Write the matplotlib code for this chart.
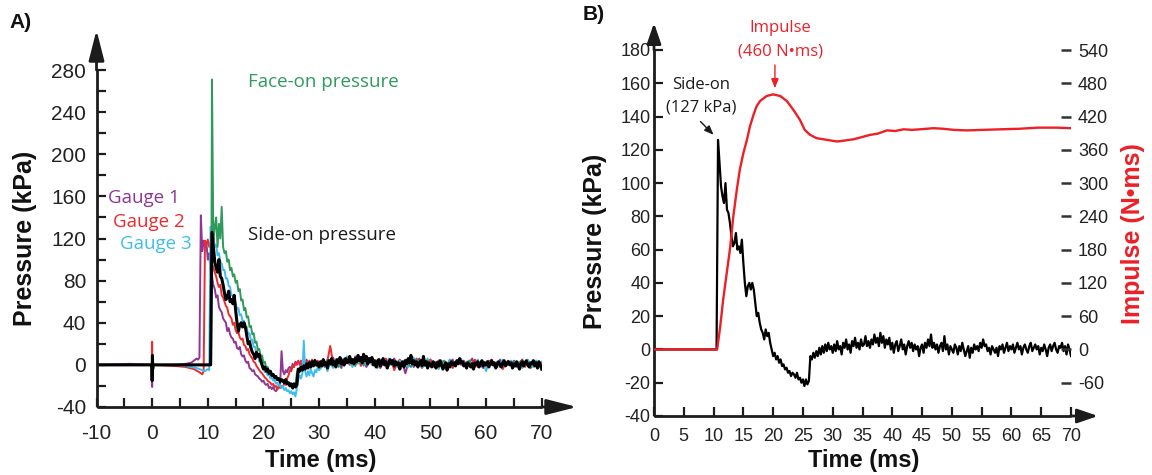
import numpy as np
import matplotlib
matplotlib.use("Agg")
import matplotlib.pyplot as plt
from matplotlib.ticker import MultipleLocator, FixedLocator

plt.rcParams['axes.unicode_minus'] = False
plt.rcParams['font.family'] = ['Liberation Sans', 'DejaVu Sans']

# ------------------------------------------------------------------ data
# Side-on pressure (kPa) - same trace in both panels
side_trig_t = [-10.0, -0.05, 0.0, 0.05, 0.1, 0.15]
side_trig_p = [0, 0, -15, 9, -4, 0]
side_main_start, side_main_end = 10.5, 30.0          # 0.25 ms samples
side_main_p = [0, 126, 112, 98, 92, 88, 100, 84,
               82, 76, 68, 62, 64, 70, 60, 62,
               58, 66, 52, 40, 32, 38, 40, 36,
               40, 36, 28, 20, 22, 16, 12, 10,
               6, 12, 8, 10, 4, 0, -4, -2,
               -6, -4, -8, -6, -10, -9, -12, -11,
               -14, -13, -16, -14, -15, -17, -14, -18,
               -17, -20, -18, -22, -18, -21, -19, -4,
               -6, -2, -5, -1, -4, 1, -3, 2,
               -2, 3, -1, 4, 0, 2, -2]
side_tail_start, side_tail_end = 30.25, 70.0          # 0.25 ms samples
side_tail_p = [3, -1, 5, 0, 2, -3, 4, 1,
               6, 0, 3, -2, 5, 2, 7, 1,
               4, 0, 6, 2, 3, 8, 2, 5,
               1, 6, 3, 9, 4, 7, 2, 10,
               4, 8, 1, 6, 3, 7, 0, 4,
               -2, 3, 5, -1, 2, 6, 0, 3,
               -3, 2, 5, 1, 4, -1, 3, 0,
               2, -4, 1, 3, -2, 4, 1, 6,
               2, 9, 1, 4, 0, 3, -2, 2,
               4, -1, 8, 0, 3, -3, 2, 0,
               -2, 3, 1, -3, 2, -1, 4, 0,
               -4, -1, 2, -5, 1, -2, 3, 0,
               2, -1, 4, 1, 6, 2, 3, -1,
               1, -3, 2, 0, -2, 1, -4, 2,
               0, 3, -2, 1, 4, -1, 2, 0,
               3, -2, 1, 4, 0, 2, -3, 1,
               3, 0, -2, 2, 4, -1, 1, 3,
               0, 2, -3, 1, -1, 3, 0, -4,
               1, 3, -1, 2, 4, 0, -2, 2,
               1, 4, -1, 2, -3, 3, 0, -4]

# Gauge 1 (purple)
g1_pre_t = [-10, -4, -0.05, 0, 0.05, 0.1, 4, 6, 7, 7.5, 8.0, 8.25, 8.5]
g1_pre_p = [0, 1, 0, -21, 6, 0, 0, 1, 2, 4, 6, 5, 7]
g1_main_start = 8.75
g1_main_p = [142, 108, 118, 112, 116, 100, 106, 88,
             84, 76, 72, 64, 66, 55, 52, 50,
             44, 42, 40, 32, 35, 29, 26, 25,
             21, 22, 16, 15, 17, 10, 8, 9,
             4, 2, 3, -3, -4, -6, -5, -9,
             -10, -11, -13, -14, -16, -15, -18, -19,
             -18, -22, -21, -23, -21, -24, -25, -23,
             -20, -18, 13, -6, -9, -5, -7, -3,
             -2, -4, 1, -2, 3, 1, 4, 0,
             3, -1, 2, 1, 5, 0, 3, 1,
             4, 2, 5, 1, 3, 0]
g1_tail_p = [3, -2, 5, 1, 7, 0, 4, -3, 6, 2,
             5, -1, 8, 2, 4, 6, -2, 3, 7, 1,
             4, -3, 2, 5, -1, 3, 6, 0, -4, 2,
             -8, 1, 4, -2, 3, 6, 0, 2, -3, 5,
             1, -2, 4, 0, 3, -4, 2, 5, -1, 3,
             0, 4, -2, 2, 6, -1, 3, 0, -3, 2,
             4, 0, 2, -2, 5, 1, -1, 3, 0, 4,
             -2, 2, 5, 0, 3, -3, 1, 4, -1, 2]

# Gauge 2 (red)
g2_pre_t = [-10, -4, -0.05, 0, 0.05, 0.1, 4, 6, 7.5, 8.5, 9.0, 9.25]
g2_pre_p = [0, 0, 0, 22, -4, 0, -1, -2, -4, -7, -9, -6]
g2_main_start = 9.5
g2_main_p = [118, 114, 119, 112, 116, 96, 92, 88,
             84, 78, 74, 76, 66, 64, 60, 56,
             54, 48, 46, 44, 38, 40, 33, 30,
             31, 26, 24, 25, 19, 18, 14, 15,
             10, 8, 6, 3, 2, -1, -3, -5,
             -7, -8, -10, -12, -13, -15, -16, -17,
             -19, -18, -21, -20, -23, -21, -22, -20,
             -21, -17, -19, -13, -10, -5, -6, -1,
             -2, 2, 0, 3, 1, 4, 2, 5,
             3, 4, 1, 4, 2, 5, 2, 3,
             1, 4, 2]
g2_tail_p = [3, 0, 4, 18, 2, 5, -1, 6, 2, 4,
             0, 5, 2, 7, -1, 4, 1, 6, 3, 0,
             5, -2, 3, 6, 0, 4, -5, 2, 5, 1,
             3, -1, 4, 0, 6, 2, -3, 3, 1, 5,
             -2, 2, 4, -1, 3, 0, 5, -3, 2, 1,
             4, -1, 3, 0, 2, 5, -2, 1, 3, 0,
             2, 5, -1, 3, 0, -4, 2, 4, 1, -1,
             3, 0, 5, -2, 2, 1, 4, -1, 2, 0]

# Gauge 3 (cyan)
g3_pre_t = [-10, -4, -0.05, 0, 0.05, 0.1, 4, 6, 7, 8, 9, 9.5, 10.0, 10.25]
g3_pre_p = [0, 0, 0, 8, -3, 0, 0, -1, -2, -3, -5, -6, -4, -5]
g3_main_start = 10.5
g3_main_p = [131, 120, 122, 112, 114, 104, 106, 98,
             96, 90, 90, 82, 82, 75, 74, 66,
             66, 60, 59, 53, 54, 47, 48, 41,
             42, 35, 36, 29, 30, 23, 24, 17,
             17, 10, 10, 3, 4, -2, -2, -7,
             -6, -10, -9, -13, -12, -15, -14, -18,
             -17, -20, -19, -22, -20, -24, -22, -25,
             -24, -27, -25, -28, -26, -30, -22, -14,
             -10, -13, -8, 23, -6, -11, -6, -10,
             -4, -8, -11, -5, -7, -2, -5]
g3_tail_p = [-2, 4, -6, 2, -3, 5, 0, 6, -1, 8,
             2, -2, 5, 1, 7, -1, 3, 6, 0, 4,
             -3, 5, 2, -1, 6, 0, 3, -2, 4, 1,
             5, -2, 3, 7, 0, 4, -3, 2, 6, -1,
             3, 0, -4, 4, 1, -2, 5, 2, -1, 3,
             6, -1, 2, 4, -3, 1, 5, 0, 3, -6,
             2, 4, -2, 3, 0, 5, -1, 2, 4, -2,
             1, 3, -3, 2, 5, 0, -2, 4, 1, 3]

# Face-on pressure (green)
fo_pre_t = [-10, 10.6]
fo_pre_p = [0, 0]
fo_main_start = 10.75
fo_main_p = [271, 118, 130, 140, 112, 134, 120, 150,
             112, 106, 108, 98, 100, 90, 92, 84,
             86, 78, 80, 70, 72, 61, 62, 52,
             54, 45, 46, 36, 37, 29, 30, 21,
             22, 14, 15, 8, 9, 2, 3, -3,
             -2, -7, -6, -10, -9, -12, -11, -14,
             -13, -15, -14, -16, -15, -17, -16, -18,
             -17, -19, -18, -20, -19, -8, -4, -6,
             -2, -4, 0, -3, 2, -1, 3, 0,
             4, 1, 3, -1, 2, 0]
fo_tail_p = [2, -1, 4, 0, 3, 5, -2, 3, 1, 6,
             2, 4, -1, 5, 3, 0, 6, 2, 4, 1,
             -2, 3, 5, 0, 2, 4, -1, 3, 0, 2,
             4, 1, -2, 3, 5, 0, 2, -1, 4, 1,
             0, 3, -2, 2, 4, -1, 1, 3, 0, 2,
             3, -1, 2, 4, 0, -2, 3, 1, 2, -1,
             1, 4, 0, 2, -2, 3, 1, 0, 2, 3,
             -1, 2, 4, 0, 1, -2, 3, 1, 0, 2]
tail_start, tail_end = 30.5, 70.0     # 0.5 ms samples for gauge / face-on tails

# Impulse (N*ms), panel B right axis
imp_t = [0, 10.6, 11.1, 11.6, 12.2, 12.8, 13.3, 13.9, 14.4, 15.0, 15.6, 16.1,
         16.7, 17.2, 17.8, 18.9, 20.0, 21.2, 22.3, 23.4, 24.5, 25.3, 26.2, 27.3,
         29.0, 30.7, 31.5, 33.5, 36.3, 37.5, 39.1, 40.5, 41.9, 43.3, 44.7, 46.9,
         48.5, 50.3, 52.5, 55.2, 58.3, 61.4, 64.5, 67.5, 70.0]
imp_v = [0, 0, 40, 89, 137, 185, 239, 288, 324, 354, 378, 402,
         423, 438, 448, 457, 460, 457, 448, 432, 414, 396, 387, 381,
         378, 375, 376, 379, 387, 389, 395, 394, 397, 396, 397, 399,
         398, 396, 395, 396, 397, 398, 400, 400, 399]

a_xticks = [-10, 0, 10, 20, 30, 40, 50, 60, 70]
a_yticks = [-40, 0, 40, 80, 120, 160, 200, 240, 280]
b_xticks = list(range(0, 75, 5))
b_yticks = list(range(-40, 200, 20))
r_yticks = [-60, 0, 60, 120, 180, 240, 300, 360, 420, 480, 540]

# ------------------------------------------------------------------ helpers
def grid(start, end, n):
    return np.linspace(start, end, n)

def trace(pre_t, pre_p, start, main_p, tail_p, tstart=tail_start, tend=tail_end):
    t = np.concatenate([pre_t, grid(start, 30.0, len(main_p)), grid(tstart, tend, len(tail_p))])
    p = np.concatenate([pre_p, main_p, tail_p])
    return t, p

side_main_t = grid(side_main_start, side_main_end, len(side_main_p))
side_tail_t = grid(side_tail_start, side_tail_end, len(side_tail_p))

W, H = 1152, 475
INK = '#1c1c1c'
PURPLE = '#8e3595'
RED = '#ee2a2f'
CYAN = '#3fbdee'
GREEN = '#2e9b5c'
RED_B = '#ee1f26'

fig = plt.figure(figsize=(11.52, 4.75), dpi=100)
fig.patch.set_facecolor('white')

axA = fig.add_axes([96.5 / W, 1 - 407 / H, 445.2 / W, 337 / H])
axB = fig.add_axes([654 / W, 1 - 416 / H, 417 / W, 366 / H])

def style(ax):
    for s in ['top', 'right']:
        ax.spines[s].set_visible(False)
    for s in ['left', 'bottom']:
        ax.spines[s].set_linewidth(2.0)
        ax.spines[s].set_color(INK)
        ax.spines[s].set_capstyle('butt')

def arrows(ax, xt, yt, hl, hw):
    kw = dict(arrowstyle=f'-|>,head_length={hl},head_width={hw}', lw=2.0,
              color=INK, shrinkA=0, shrinkB=0, mutation_scale=10)
    ax.annotate('', xy=(0, yt), xytext=(0, 1), xycoords='axes fraction',
                textcoords='axes fraction', arrowprops=kw, annotation_clip=False)
    ax.annotate('', xy=(xt, 0), xytext=(1, 0), xycoords='axes fraction',
                textcoords='axes fraction', arrowprops=kw, annotation_clip=False)

# ------------------------------------------------------------------ panel A
for (pt, pp, st, mp, tp, col) in [
        (g1_pre_t, g1_pre_p, g1_main_start, g1_main_p, g1_tail_p, PURPLE),
        (g2_pre_t, g2_pre_p, g2_main_start, g2_main_p, g2_tail_p, RED),
        (g3_pre_t, g3_pre_p, g3_main_start, g3_main_p, g3_tail_p, CYAN),
        (fo_pre_t, fo_pre_p, fo_main_start, fo_main_p, fo_tail_p, GREEN)]:
    t, p = trace(pt, pp, st, mp, tp)
    axA.plot(t, p, color=col, lw=1.4)

sideA_t = np.concatenate([side_trig_t, side_main_t, side_tail_t])
sideA_p = np.concatenate([side_trig_p, side_main_p, side_tail_p])
axA.plot(sideA_t, sideA_p, color='black', lw=2.2)

axA.set_xlim(-10, 70)
axA.set_ylim(-40, 280)
axA.xaxis.set_major_locator(FixedLocator(a_xticks))
axA.xaxis.set_minor_locator(MultipleLocator(5))
axA.yaxis.set_major_locator(FixedLocator(a_yticks))
axA.yaxis.set_minor_locator(MultipleLocator(20))
axA.tick_params(which='both', direction='in', length=6.5, width=1.6, color=INK)
axA.tick_params(axis='y', which='major', labelsize=15, pad=7.5, labelcolor='#222222')
axA.tick_params(axis='x', which='major', labelsize=15, pad=12, labelcolor='#222222')
style(axA)
arrows(axA, 1 + 35.3 / 445.2, 1 + 40 / 337, 1.85, 0.47)

osans = ['Open Sans', 'DejaVu Sans']
fig.text(248 / W, 1 - 82 / H, 'Face-on pressure', color=GREEN, fontsize=13.5,
         family=osans, ha='left', va='center')
fig.text(248 / W, 1 - 235 / H, 'Side-on pressure', color='#1a1a1a', fontsize=13.5,
         family=osans, ha='left', va='center')
fig.text(108 / W, 1 - 198 / H, 'Gauge 1', color=PURPLE, fontsize=13.5,
         family=osans, ha='left', va='center')
fig.text(113 / W, 1 - 222 / H, 'Gauge 2', color=RED, fontsize=13.5,
         family=osans, ha='left', va='center')
fig.text(120 / W, 1 - 244 / H, 'Gauge 3', color=CYAN, fontsize=13.5,
         family=osans, ha='left', va='center')

fig.text(25 / W, 1 - 238 / H, 'Pressure (kPa)', rotation=90, fontsize=18,
         fontweight='bold', ha='center', va='center', color='#111111')
fig.text(321 / W, 1 - 461 / H, 'Time (ms)', fontsize=17, fontweight='bold',
         ha='center', va='center', color='#111111')
fig.text(9 / W, 1 - 23 / H, 'A)', fontsize=15, fontweight='bold',
         ha='left', va='center', color='#111111')

# ------------------------------------------------------------------ panel B
sideB_t = np.concatenate([[0.0], side_main_t, side_tail_t])
sideB_p = np.concatenate([[0.0], side_main_p, side_tail_p])
axB.plot(sideB_t, sideB_p, color='black', lw=1.6, zorder=3)

axB.set_xlim(0, 70)
axB.set_ylim(-40, 180)
axB.xaxis.set_major_locator(FixedLocator(b_xticks))
axB.yaxis.set_major_locator(FixedLocator(b_yticks))
axB.tick_params(direction='in', length=6.5, width=1.6, color=INK, labelsize=13,
                labelcolor='#222222')
axB.tick_params(axis='y', pad=2.5)
axB.tick_params(axis='x', pad=8.5)
style(axB)
arrows(axB, 1 + 27 / 417, 1 + 27 / 366, 1.25, 0.43)

axR = axB.twinx()
axR.plot(imp_t, imp_v, color=RED_B, lw=1.7, zorder=2)
axR.set_ylim(-120, 540)
axR.yaxis.set_major_locator(FixedLocator(r_yticks))
axR.tick_params(direction='in', length=7, width=1.8, color='#333333', labelsize=13,
                pad=5, labelcolor='#222222')
for s in axR.spines.values():
    s.set_visible(False)

axB.annotate('', xy=(20.3, 157), xytext=(20.3, 171),
             arrowprops=dict(arrowstyle='-|>,head_length=0.55,head_width=0.22',
                             color=RED_B, lw=1.0, shrinkA=0, shrinkB=0),
             annotation_clip=False)
axB.annotate('', xy=(10.0, 129), xytext=(7.8, 137),
             arrowprops=dict(arrowstyle='-|>,head_length=0.55,head_width=0.22',
                             color='#1a1a1a', lw=1.0, shrinkA=0, shrinkB=0),
             annotation_clip=False)

fig.text(780 / W, 1 - 28 / H, 'Impulse', color=RED_B, fontsize=12, family=osans,
         ha='center', va='center')
fig.text(780 / W, 1 - 52 / H, '(460 N\u2022ms)', color=RED_B, fontsize=12, family=osans,
         ha='center', va='center')
fig.text(701 / W, 1 - 85 / H, 'Side-on', color='#1a1a1a', fontsize=12, family=osans,
         ha='center', va='center')
fig.text(701.5 / W, 1 - 107.5 / H, '(127 kPa)', color='#1a1a1a', fontsize=12, family=osans,
         ha='center', va='center')

fig.text(595 / W, 1 - 241.5 / H, 'Pressure (kPa)', rotation=90, fontsize=18,
         fontweight='bold', ha='center', va='center', color='#111111')
fig.text(1133 / W, 1 - 234 / H, 'Impulse (N\u2022ms)', rotation=90, fontsize=18,
         fontweight='bold', ha='center', va='center', color=RED_B)
fig.text(864 / W, 1 - 461 / H, 'Time (ms)', fontsize=17, fontweight='bold',
         ha='center', va='center', color='#111111')
fig.text(583 / W, 1 - 15 / H, 'B)', fontsize=15, fontweight='bold',
         ha='left', va='center', color='#111111')

fig.savefig('out.png', dpi=100, facecolor='white')
